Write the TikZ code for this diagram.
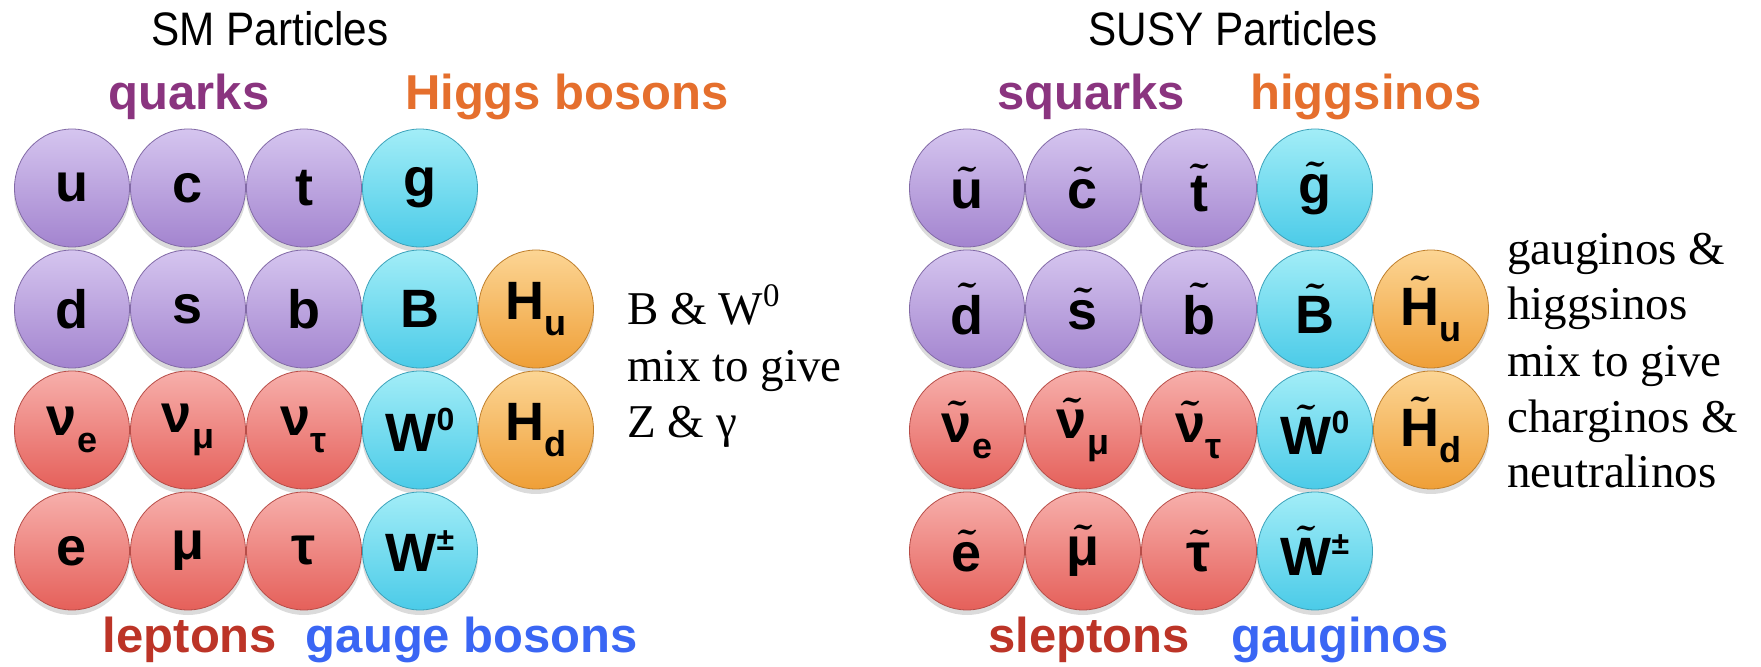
\documentclass[tikz,border=0pt]{standalone}
\usepackage{fontspec}
\setmainfont{Liberation Serif}
\setsansfont{Liberation Sans}
\usetikzlibrary{shapes.geometric}
\pgfdeclarelayer{background}
\pgfsetlayers{background,main}
\definecolor{qtop}{HTML}{D5C5EF}
\definecolor{qbot}{HTML}{A384CF}
\definecolor{ltop}{HTML}{F7AFAB}
\definecolor{lbot}{HTML}{E5605A}
\definecolor{gtop}{HTML}{A2EDF7}
\definecolor{gbot}{HTML}{4BCBE8}
\definecolor{htop}{HTML}{FCD594}
\definecolor{hbot}{HTML}{EF9F37}
\definecolor{cq}{HTML}{8A347F}
\definecolor{ch}{HTML}{E56F2D}
\definecolor{cl}{HTML}{BC3427}
\definecolor{cg}{HTML}{3A66F4}
\newcommand\tl[1]{{\boldmath$\tilde{\hbox{#1}}$}}
\newcommand\sbs[1]{\raisebox{-0.3em}{\fontsize{18}{18}\selectfont #1}}
\newcommand\sps[1]{\raisebox{0.4em}{\fontsize{16}{16}\selectfont #1}}
\newcommand\ttl[1]{\scalebox{0.9}[1]{#1}}
\begin{document}
\begin{tikzpicture}[x=0.5pt,y=-0.5pt,
  ball/.style={ellipse, minimum width=57.5pt, minimum height=59pt, inner sep=0pt,
    line width=0.4pt, font=\sffamily\bfseries\fontsize{27}{32}\selectfont},
  qk/.style={ball, top color=qtop, bottom color=qbot, draw=qbot!80!black},
  lp/.style={ball, top color=ltop, bottom color=lbot, draw=lbot!80!black},
  gb/.style={ball, top color=gtop, bottom color=gbot, draw=gbot!80!black},
  hg/.style={ball, top color=htop, bottom color=hbot, draw=hbot!80!black},
  title/.style={anchor=base, inner sep=0pt, font=\sffamily\fontsize{23.5}{28}\selectfont},
  cat/.style={anchor=base, inner sep=0pt, font=\sffamily\bfseries\fontsize{24.5}{28}\selectfont},
  side/.style={anchor=base west, inner sep=0pt, font=\rmfamily\fontsize{23.5}{28}\selectfont}]
\useasboundingbox (0,0) rectangle (1761,667);

% ---------- SM ----------
\node[title] (smt) at (270,46) {\ttl{SM Particles}};
\node[cat, text=cq] (quarks) at (189,110) {quarks};
\node[cat, text=ch] (higgs) at (567,110) {Higgs bosons};

\node[qk] (u) at (72,188) {u};
\node[qk] (c) at (188,188) {c};
\node[qk] (t) at (304,188) {t};
\node[gb] (g) at (420,188) {g};

\node[qk] (d) at (72,309) {d};
\node[qk] (s) at (188,309) {s};
\node[qk] (b) at (304,309) {b};
\node[gb] (B) at (420,309) {B};
\node[hg] (Hu) at (536,309) {H\sbs{u}};

\node[lp] (ve) at (72,430) {ν\sbs{e}};
\node[lp] (vm) at (188,430) {ν\sbs{μ}};
\node[lp] (vt) at (304,430) {ν\sbs{τ}};
\node[gb] (W0) at (420,430) {W\sps{0}};
\node[hg] (Hd) at (536,430) {H\sbs{d}};

\node[lp] (e) at (72,551) {e};
\node[lp] (mu) at (188,551) {μ};
\node[lp] (tau) at (304,551) {τ};
\node[gb] (Wpm) at (420,551) {W\sps{±}};

\node[cat, text=cl] (leptons) at (190,653) {leptons};
\node[cat, text=cg] (gauge) at (472,653) {gauge bosons};

\node[side] (l1) at (627,325) {B \& W\textsuperscript{0}};
\node[side] (l2) at (627,382) {mix to give};
\node[side] (l3) at (627,438) {Z \& γ};

% ---------- SUSY ----------
\node[title] (susyt) at (1233,46) {\ttl{SUSY Particles}};
\node[cat, text=cq] (squarks) at (1091,110) {squarks};
\node[cat, text=ch] (higgsinos) at (1366,110) {higgsinos};

\node[qk] (su) at (967,188) {\tl{u}};
\node[qk] (sc) at (1083,188) {\tl{c}};
\node[qk] (st) at (1199,188) {\tl{t}};
\node[gb] (sg) at (1315,188) {\tl{g}};

\node[qk] (sd) at (967,309) {\tl{d}};
\node[qk] (ss) at (1083,309) {\tl{s}};
\node[qk] (sb) at (1199,309) {\tl{b}};
\node[gb] (sB) at (1315,309) {\tl{B}};
\node[hg] (sHu) at (1431,309) {\tl{H}\sbs{u}};

\node[lp] (sve) at (967,430) {\tl{ν}\sbs{e}};
\node[lp] (svm) at (1083,430) {\tl{ν}\sbs{μ}};
\node[lp] (svt) at (1199,430) {\tl{ν}\sbs{τ}};
\node[gb] (sW0) at (1315,430) {\tl{W}\sps{0}};
\node[hg] (sHd) at (1431,430) {\tl{H}\sbs{d}};

\node[lp] (se) at (967,551) {\tl{e}};
\node[lp] (smu) at (1083,551) {\tl{μ}};
\node[lp] (stau) at (1199,551) {\tl{τ}};
\node[gb] (sWpm) at (1315,551) {\tl{W}\sps{±}};

\node[cat, text=cl] (sleptons) at (1089,653) {sleptons};
\node[cat, text=cg] (gauginos) at (1340,653) {gauginos};

\node[side] (r1) at (1507,265) {gauginos \&};
\node[side] (r2) at (1507,320) {higgsinos};
\node[side] (r3) at (1507,377) {mix to give};
\node[side] (r4) at (1507,433) {charginos \&};
\node[side] (r5) at (1507,488) {neutralinos};

% shadows
\begin{pgfonlayer}{background}
\foreach \n in {u,c,t,g,d,s,b,B,Hu,ve,vm,vt,W0,Hd,e,mu,tau,Wpm,
  su,sc,st,sg,sd,ss,sb,sB,sHu,sve,svm,svt,sW0,sHd,se,smu,stau,sWpm}
  \fill[black, opacity=0.14] ([yshift=-2.5pt]\n.center) ellipse [x radius=29pt, y radius=29.5pt];
\end{pgfonlayer}
\end{tikzpicture}
\end{document}
